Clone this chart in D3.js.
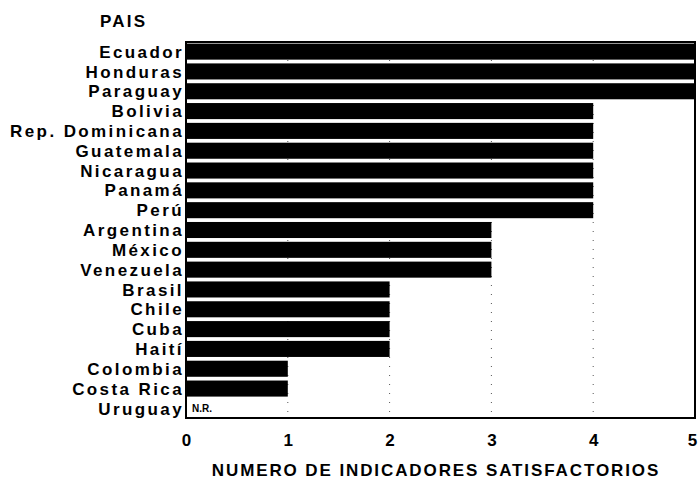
<!DOCTYPE html>
<html>
<head>
<meta charset="utf-8">
<script src="https://cdn.jsdelivr.net/npm/d3@7"></script>
<style>
  body { margin: 0; background: #fff; }
  svg { display: block; }
  .lbl { font-family: "Liberation Sans", Arial, Helvetica, sans-serif; font-weight: bold; fill: #000; }
</style>
</head>
<body>
<div id="chart"></div>
<script>
// countries top to bottom
const paises = ["Ecuador", "Honduras", "Paraguay", "Bolivia", "Rep. Dominicana", "Guatemala",
  "Nicaragua", "Panamá", "Perú", "Argentina", "México", "Venezuela", "Brasil", "Chile",
  "Cuba", "Haití", "Colombia", "Costa Rica", "Uruguay"];
// number of satisfactory indicators (null = N.R.)
const indicadores = [5, 5, 5, 4, 4, 4, 4, 4, 4, 3, 3, 3, 2, 2, 2, 2, 1, 1, null];
const ticks = [0, 1, 2, 3, 4, 5];

const W = 698, H = 481;
const margin = {top: 42, right: 3, bottom: 63, left: 186};
const width = W - margin.left - margin.right;
const height = H - margin.top - margin.bottom;

const svg = d3.select("#chart").append("svg").attr("width", W).attr("height", H);

const x = d3.scaleLinear().domain([0, 5]).range([margin.left, margin.left + width]);
const y = d3.scaleBand().domain(paises).range([margin.top, margin.top + height])
  .paddingInner(0.19).paddingOuter(0.08);

const data = paises.map((p, i) => ({pais: p, v: indicadores[i]}));

// dotted grid
svg.append("g").selectAll("line")
  .data(ticks.slice(1, -1))
  .enter().append("line")
  .attr("x1", d => x(d)).attr("x2", d => x(d))
  .attr("y1", margin.top).attr("y2", margin.top + height)
  .attr("stroke", "#555").attr("stroke-width", 1)
  .attr("stroke-dasharray", "1,8");

// bars
svg.append("g").selectAll("rect")
  .data(data.filter(d => d.v != null))
  .enter().append("rect")
  .attr("x", x(0))
  .attr("y", d => y(d.pais))
  .attr("width", d => x(d.v) - x(0))
  .attr("height", y.bandwidth())
  .attr("fill", "#000");

// N.R.
svg.append("g").selectAll("text")
  .data(data.filter(d => d.v == null))
  .enter().append("text")
  .attr("x", x(0) + 6)
  .attr("y", d => y(d.pais) + y.bandwidth() / 2 + 4)
  .style("font-family", "'Liberation Sans Narrow', 'Liberation Sans', Arial, sans-serif")
  .style("font-size", "10px").style("font-weight", "bold")
  .text("N.R.");

// frame
svg.append("rect")
  .attr("x", margin.left).attr("y", margin.top)
  .attr("width", width).attr("height", height)
  .attr("fill", "none").attr("stroke", "#000").attr("stroke-width", 2);

// category labels
svg.append("g").selectAll("text")
  .data(paises)
  .enter().append("text")
  .attr("class", "lbl")
  .attr("x", margin.left - 2)
  .attr("y", d => y(d) + y.bandwidth() / 2)
  .attr("dy", "0.36em")
  .attr("text-anchor", "end")
  .style("font-size", "17px")
  .style("letter-spacing", "2.4px")
  .text(d => d);

// x tick labels
const xAxis = d3.axisBottom(x).tickValues(ticks).tickSize(0).tickPadding(0).tickFormat(d3.format("d"));
const gx = svg.append("g")
  .attr("transform", `translate(0,${margin.top + height})`)
  .call(xAxis);
gx.select(".domain").remove();
gx.selectAll("text")
  .attr("class", "lbl")
  .attr("y", 28).attr("dy", 0)
  .attr("x", d => d === 5 ? -3 : 0)
  .style("font-size", "17px");

// titles
svg.append("text").attr("class", "lbl")
  .attr("x", 100).attr("y", 27)
  .style("font-size", "17px").style("letter-spacing", "2.2px")
  .text("PAIS");

svg.append("text").attr("class", "lbl")
  .attr("x", 436).attr("y", 476)
  .attr("text-anchor", "middle")
  .style("font-size", "17px").style("letter-spacing", "1.9px")
  .text("NUMERO DE INDICADORES SATISFACTORIOS");
</script>
</body>
</html>
